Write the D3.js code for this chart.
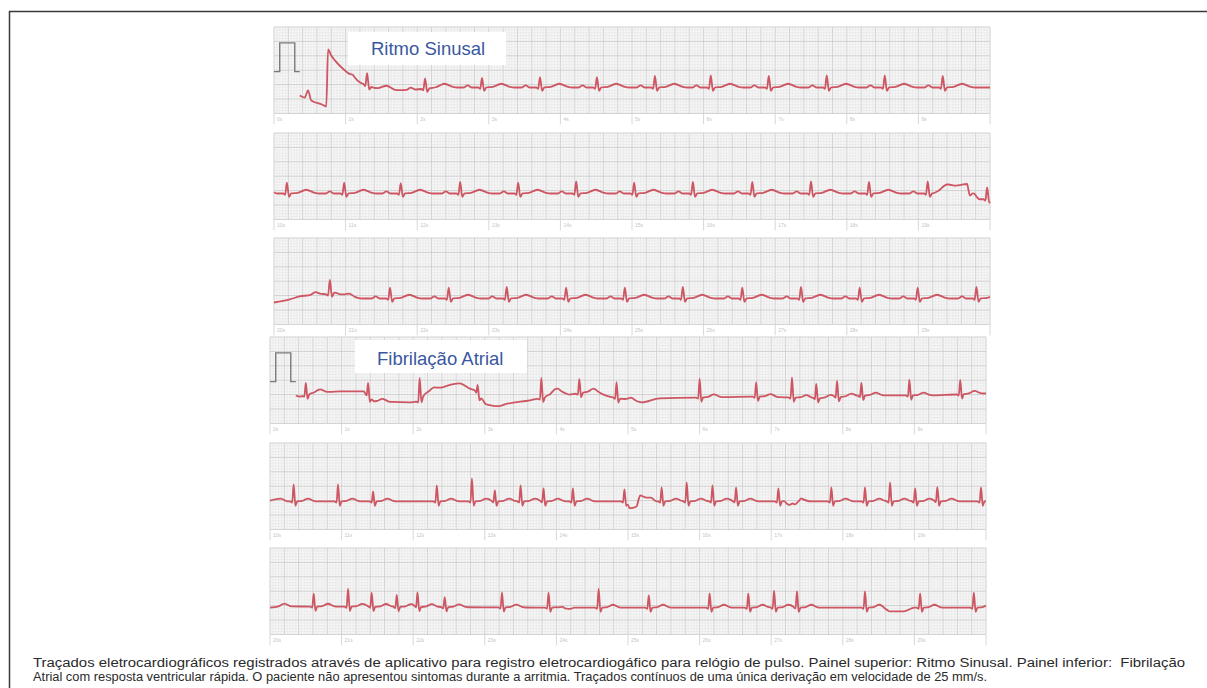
<!DOCTYPE html>
<html>
<head>
<meta charset="utf-8">
<script src="https://cdn.jsdelivr.net/npm/d3@7"></script>
<style>
  body { margin: 0; background: #fff; }
  svg { display: block; }
</style>
</head>
<body>
<svg id="chart" width="1207" height="688"></svg>
<script>
// ---- data (times in s from strip start, values in mV) ----
const stripStart = [0, 10, 20, 0, 10, 20];
const tickSeconds = [0, 1, 2, 3, 4, 5, 6, 7, 8, 9];
const panelLabels = ['Ritmo Sinusal', 'Fibrilação Atrial'];
const captionLines = [
  'Traçados eletrocardiográficos registrados através de aplicativo para registro eletrocardiogáfico para relógio de pulso. Painel superior: Ritmo Sinusal. Painel inferior:  Fibrilação',
  'Atrial com resposta ventricular rápida. O paciente não apresentou sintomas durante a arritmia. Traçados contínuos de uma única derivação em velocidade de 25 mm/s.',
];

// calibration pulse, 1 mV
const calPulse = [[0, 0], [0.08, 0], [0.08, 1], [0.29, 1], [0.29, 0], [0.36, 0]];

// beat shapes: [dt, mV], 'R' = R wave amplitude of the beat
const sinusWave = [[-0.26, 0], [-0.2, 0.07], [-0.14, 0], [-0.05, 0], [-0.025, -0.05], [0, 'R'],
  [0.03, -0.12], [0.06, 0], [0.15, 0.02], [0.27, 0.13], [0.39, 0.02], [0.45, 0]];
const afWave = [[-0.05, 0], [-0.02, -0.04], [0, 'R'], [0.025, -0.15], [0.05, 0],
  [0.12, 0.02], [0.2, 0.1], [0.28, 0.02], [0.33, 0]];

// R wave times and amplitudes
const beats1 = [1.30, 2.11, 2.905, 3.715, 4.51, 5.32, 6.10, 6.91, 7.72, 8.53, 9.34];
const amps1 = [0.42, 0.36, 0.33, 0.36, 0.36, 0.40, 0.42, 0.40, 0.42, 0.42, 0.40];
const beats2 = [0.18, 0.98, 1.77, 2.60, 3.41, 4.22, 5.03, 5.85, 6.68, 7.50, 8.31, 9.13, 9.96];
const amps2 = [0.38, 0.38, 0.36, 0.40, 0.38, 0.42, 0.38, 0.40, 0.40, 0.42, 0.40, 0.42, 0.41];
const beats3 = [0.78, 1.62, 2.44, 3.25, 4.08, 4.90, 5.71, 6.54, 7.36, 8.18, 8.99, 9.81];
const amps3 = [0.48, 0.38, 0.38, 0.40, 0.38, 0.38, 0.40, 0.38, 0.40, 0.38, 0.38, 0.40];
const beats4 = [0.50, 1.37, 2.09, 2.90, 3.79, 4.32, 4.84, 6.00, 6.79, 7.29, 7.63, 7.92, 8.26, 8.93, 9.64];
const amps4 = [0.42, 0.45, 0.75, 0.30, 0.70, 0.50, 0.55, 0.65, 0.50, 0.70, 0.50, 0.55, 0.45, 0.55, 0.50];
const beats5 = [0.33, 0.95, 1.44, 2.33, 2.82, 3.14, 3.50, 3.82, 4.23, 4.95, 5.47, 5.82, 6.18, 6.51,
  7.10, 7.84, 8.31, 8.66, 9.01, 9.32, 9.93];
const amps5 = [0.59, 0.59, 0.35, 0.56, 0.80, 0.38, 0.56, 0.45, 0.45, 0.42, 0.49, 0.66, 0.56, 0.49,
  0.45, 0.49, 0.49, 0.66, 0.45, 0.49, 0.49];
const beats6 = [0.61, 1.09, 1.42, 1.77, 2.06, 2.44, 3.24, 3.89, 4.59, 5.29, 6.14, 6.68, 7.04, 7.36,
  8.31, 9.08, 9.83];
const amps6 = [0.45, 0.63, 0.49, 0.42, 0.49, 0.35, 0.52, 0.52, 0.66, 0.42, 0.49, 0.49, 0.59, 0.56,
  0.56, 0.49, 0.52];

// baseline wander / artefacts: [t, mV]
const base1 = [[0.36, -0.28], [0.43, -0.35], [0.475, -0.1], [0.52, -0.45], [0.67, -0.59], [0.73, -0.66],
  [0.755, 1.32], [0.80, 1.11], [0.85, 0.94], [0.99, 0.59], [1.13, 0.31], [1.23, 0.14], [1.41, -0.03],
  [1.69, -0.1], [1.97, -0.07], [2.32, 0], [10, 0]];
const base2 = [[0, 0], [9.2, 0], [9.42, 0.2], [9.6, 0.3], [9.68, 0.33], [9.72, -0.1], [9.78, -0.05],
  [9.85, -0.2], [10, -0.2]];
const base3 = [[0, -0.14], [0.22, -0.03], [0.36, 0.07], [0.53, 0.14], [0.64, 0.17], [0.73, 0.14],
  [0.85, 0.2], [0.99, 0.07], [1.13, 0], [10, 0]];
const base4 = [[0.36, 0.07], [0.42, 0.03], [0.63, 0.17], [0.98, 0.21], [1.31, 0.21], [1.45, -0.14],
  [1.95, -0.17], [2.06, -0.14], [2.2, 0.17], [2.44, 0.38], [2.65, 0.49], [2.79, 0.31], [2.87, 0.24],
  [3.01, -0.24], [3.1, -0.38], [3.28, -0.24], [3.63, -0.1], [3.84, 0], [4.02, 0.24], [4.18, 0.1],
  [4.3, 0.14], [4.53, 0.21], [4.74, 0.03], [5.02, -0.1], [5.19, -0.17], [5.44, -0.03], [6.0, 0],
  [6.83, 0.03], [7.67, -0.03], [8.37, 0.07], [9.2, 0.07], [10, 0.14]];
const base5 = [[0, 0.1], [0.15, 0.17], [0.25, 0.07], [4.98, 0.07], [5.02, -0.17], [5.12, -0.17],
  [5.17, 0.2], [5.32, 0.2], [5.4, 0.07], [7.18, 0.07], [7.25, -0.1], [7.33, -0.1], [7.42, 0.17],
  [7.55, 0.07], [10, 0.07]];
const base6 = [[0, 0.03], [0.12, 0.07], [0.2, 0.17], [0.3, 0.07], [4.0, 0.03], [4.12, -0.07],
  [4.25, 0.03], [8.55, 0.03], [8.65, -0.1], [8.85, -0.1], [9.0, 0.03], [10, 0.03]];

// ---- layout ----
const svg = d3.select('#chart');
const stripTops = [27, 133, 238, 337, 443, 548];
const stripLefts = [274, 274, 274, 270, 270, 270];
const stripW = 716;
const gridH = 86.4;
const secs = 10;

const strips = [
  { beats: beats1, amps: amps1, base: base1, wave: sinusWave, t0: 0.36, cal: true },
  { beats: beats2, amps: amps2, base: base2, wave: sinusWave, t0: 0 },
  { beats: beats3, amps: amps3, base: base3, wave: sinusWave, t0: 0 },
  { beats: beats4, amps: amps4, base: base4, wave: afWave, t0: 0.36, cal: true },
  { beats: beats5, amps: amps5, base: base5, wave: afWave, t0: 0 },
  { beats: beats6, amps: amps6, base: base6, wave: afWave, t0: 0 },
];

const lerpAt = (knots, t, amp) => {
  const val = k => (k[1] === 'R' ? amp : k[1]);
  for (let i = 1; i < knots.length; i++) {
    if (t <= knots[i][0]) {
      const a = knots[i - 1], b = knots[i];
      const f = b[0] === a[0] ? 1 : (t - a[0]) / (b[0] - a[0]);
      return val(a) + (val(b) - val(a)) * f;
    }
  }
  return val(knots[knots.length - 1]);
};

const waveAt = (wave, dt, amp) => {
  if (dt < wave[0][0] || dt > wave[wave.length - 1][0]) return 0;
  return lerpAt(wave, dt, amp);
};

// frame
svg.append('path')
  .attr('d', 'M9.5,688V11.5H1207')
  .attr('fill', 'none')
  .attr('stroke', '#3a3a3a')
  .attr('stroke-width', 1.5);

strips.forEach((s, si) => {
  const top = stripTops[si];
  const left = stripLefts[si];
  const x = d3.scaleLinear().domain([0, secs]).range([left, left + stripW]);
  const y = d3.scaleLinear().domain([-0.9, 2.1]).range([top + gridH, top]);
  const g = svg.append('g');

  g.append('rect')
    .attr('x', left).attr('y', top)
    .attr('width', stripW).attr('height', gridH)
    .attr('fill', '#f7f7f7');

  // small and big boxes
  const vLines = d3.range(0, secs / 0.04 + 1);
  g.selectAll('.v').data(vLines).join('line')
    .attr('x1', i => x(i * 0.04)).attr('x2', i => x(i * 0.04))
    .attr('y1', top).attr('y2', top + gridH)
    .attr('stroke', i => (i % 5 === 0 ? '#d0d0d0' : '#e6e6e6'))
    .attr('stroke-width', i => (i % 5 === 0 ? 1 : 0.6));
  const hLines = d3.range(0, 31);
  g.selectAll('.h').data(hLines).join('line')
    .attr('x1', left).attr('x2', left + stripW)
    .attr('y1', i => y(2.1 - i * 0.1)).attr('y2', i => y(2.1 - i * 0.1))
    .attr('stroke', i => (i % 5 === 0 ? '#d0d0d0' : '#e6e6e6'))
    .attr('stroke-width', i => (i % 5 === 0 ? 1 : 0.6));

  // second ticks under the strip
  const ticks = tickSeconds.concat([secs]);
  g.selectAll('.tk').data(ticks).join('line')
    .attr('x1', d => x(d)).attr('x2', d => x(d))
    .attr('y1', top + gridH).attr('y2', top + gridH + 11)
    .attr('stroke', '#d8d8d8').attr('stroke-width', 1);
  g.selectAll('.tl').data(tickSeconds).join('text')
    .attr('x', d => x(d) + 3).attr('y', top + gridH + 8)
    .attr('font-family', 'Liberation Sans, Arial, sans-serif')
    .attr('font-size', 5).attr('fill', '#c4c4c4')
    .text(d => `${stripStart[si] + d}s`);

  // calibration pulse
  if (s.cal) {
    g.append('path')
      .datum(calPulse)
      .attr('fill', 'none').attr('stroke', '#7a7a7a').attr('stroke-width', 1.4)
      .attr('d', d3.line().x(d => x(d[0])).y(d => y(0.55 + d[1])));
  }

  // trace points: baseline knots plus every beat's shape knots
  let ts = s.base.map(d => d[0]);
  s.beats.forEach(tb => s.wave.forEach(w => ts.push(tb + w[0])));
  ts.push(s.t0, secs);
  ts = Array.from(new Set(ts.filter(t => t >= s.t0 && t <= secs).map(t => +t.toFixed(4))))
    .sort((a, b) => a - b);
  const pts = ts.map(t => {
    let v = lerpAt(s.base, t, 0);
    s.beats.forEach((tb, bi) => { v += waveAt(s.wave, t - tb, s.amps[bi]); });
    return [t, v];
  });

  g.append('path')
    .datum(pts)
    .attr('fill', 'none')
    .attr('stroke', '#cd5663')
    .attr('stroke-width', 1.8)
    .attr('stroke-linejoin', 'round')
    .attr('d', d3.line().x(d => x(d[0])).y(d => y(d[1])).curve(d3.curveMonotoneX));
});

// panel labels
const labelBoxes = [
  { x: 348, y: 32, w: 158, h: 33, tx: 371, ty: 55 },
  { x: 355, y: 340, w: 172, h: 33, tx: 377, ty: 365 },
];
panelLabels.forEach((lab, i) => {
  const b = labelBoxes[i];
  svg.append('rect').attr('x', b.x).attr('y', b.y).attr('width', b.w).attr('height', b.h)
    .attr('fill', '#fff');
  svg.append('text').attr('x', b.tx).attr('y', b.ty)
    .attr('font-family', 'Liberation Sans, Arial, sans-serif')
    .attr('font-size', 18.5).attr('fill', '#3a58a0')
    .text(lab);
});

// caption
const capLengths = [1152, 954];
captionLines.forEach((line, i) => {
  svg.append('text')
    .attr('x', 33).attr('y', 667 + i * 14)
    .attr('font-family', 'Liberation Sans, Arial, sans-serif')
    .attr('font-size', 12.5).attr('fill', '#2a2a2a')
    .style('white-space', 'pre')
    .attr('textLength', capLengths[i]).attr('lengthAdjust', 'spacingAndGlyphs')
    .text(line);
});
</script>
</body>
</html>
